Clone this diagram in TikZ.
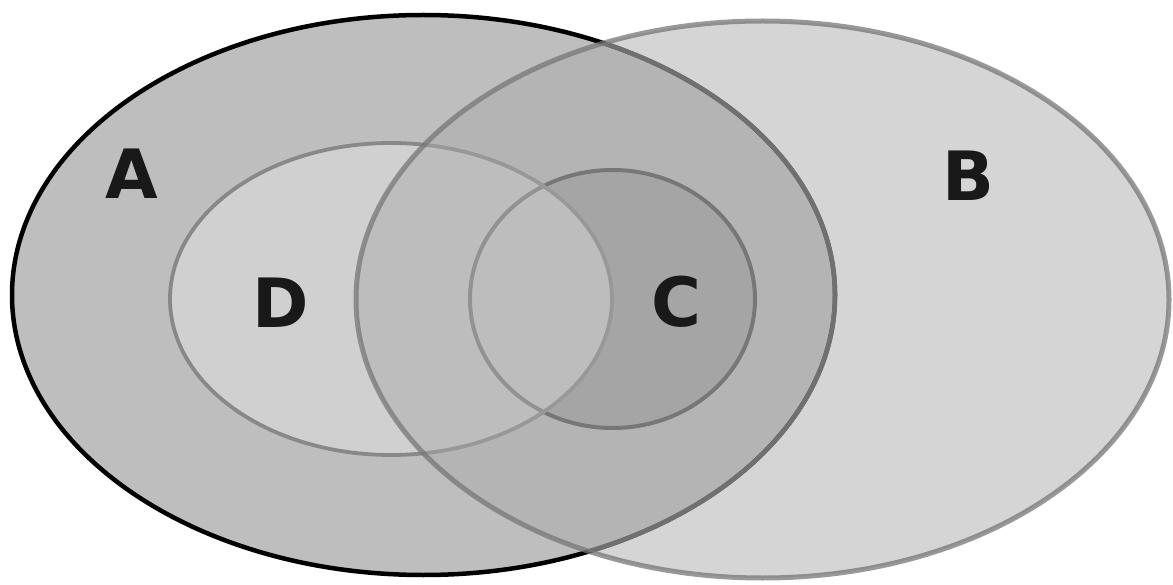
\documentclass[tikz,border=0pt]{standalone}
\usepackage{fontspec}
\newfontfamily\lblfont{DejaVu Sans}[BoldFont={DejaVu Sans Bold}]
\definecolor{fillA}{gray}{0.745}
\definecolor{fillB}{gray}{0.667}
\definecolor{lineB}{gray}{0.463}
\definecolor{lineC}{gray}{0.28}
\definecolor{lineD}{gray}{0.535}
\definecolor{lineAinB}{gray}{0.44}
\definecolor{ink}{gray}{0.1}
\begin{document}
\begin{tikzpicture}[x=1pt,y=-1pt,
  setlabel/.style={font=\lblfont\bfseries\fontsize{68}{68}\selectfont, text=ink, inner sep=0pt}]
\useasboundingbox[fill=white] (0,0) rectangle (1173,585);
% A
\fill[fillA] (423.5,295) ellipse (411.5 and 280);
\draw[black, line width=4.5] (423.5,295) ellipse (411.5 and 280);
% C fill (outside D)
\begin{scope}
  \clip (612.5,299) ellipse (142.5 and 129);
  \fill[black, opacity=0.147, even odd rule] (0,0) rectangle (1173,585) (391,299) ellipse (221 and 156);
\end{scope}
\draw[lineC, line width=4] (612.5,299) ellipse (142.5 and 129);
% D
\fill[white, opacity=0.29] (391,299) ellipse (221 and 156);
\draw[lineD, line width=3.8] (391,299) ellipse (221 and 156);
% B
\fill[fillB, opacity=0.485] (762.5,299.5) ellipse (406.5 and 278.5);
\begin{scope}
  \clip (762.5,299.5) ellipse (406.5 and 278.5);
  \draw[lineAinB, line width=4.6] (423.5,295) ellipse (411.5 and 280);
\end{scope}
\draw[lineB, opacity=0.74, line width=5] (762.5,299.5) ellipse (406.5 and 278.5);
% labels
\node[setlabel] (labA) at (131.5,174) {A};
\node[setlabel] (labB) at (968,176) {B};
\node[setlabel] (labD) at (281,303) {D};
\node[setlabel] (labC) at (676.5,302) {C};
\end{tikzpicture}
\end{document}
